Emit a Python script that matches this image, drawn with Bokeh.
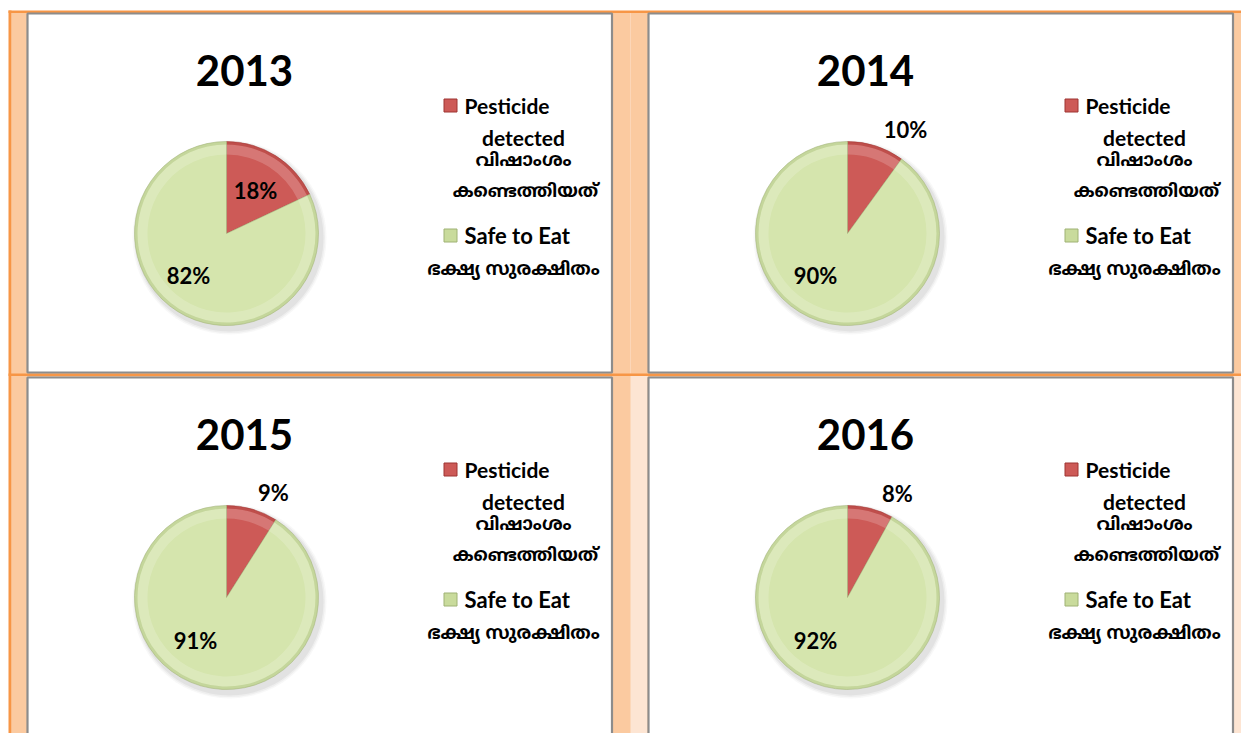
import math
from bokeh.plotting import figure
from bokeh.models import Range1d
from bokeh.core.properties import value
from bokeh.embed import file_html
from bokeh.resources import INLINE

# ---- data ----
years = ["2013", "2014", "2015", "2016"]
pesticide = [18, 10, 9, 8]
safe = [82, 90, 91, 92]
legend_pest_en = ["Pesticide", "detected"]
legend_pest_ml = ["വിഷാംശം", "കണ്ടെത്തിയത്"]
legend_safe_en = "Safe to Eat"
legend_safe_ml = "ഭക്ഷ്യ സുരക്ഷിതം"

# ---- layout (screen pixels, y down) ----
W, H = 1241, 733
offsets = [(0, 0), (621, 0), (0, 364), (621, 364)]
red_lbl = [(29, -43), (58, -104), (47, -105), (50, -104)]
green_lbl = [(-38, 42), (-32, 42), (-31, 43), (-32, 43)]

RED = "#CD5A57"
RED_D = "#9E3532"
GREEN = "#D5E5AD"
GREEN_D = "#9FB275"
ORANGE = "#F79646"
PEACH = "#FBCAA0"
PEACH_L = "#FDE5D3"
GRAY = "#8C8C8C"

FONT = value("Lato")
ML_FONT = value("Noto Sans Malayalam")


def Y(y):
    return H - y


p = figure(width=W, height=H, x_range=Range1d(0, W), y_range=Range1d(0, H),
           output_backend="svg", toolbar_location=None, min_border=0)
p.axis.visible = False
p.grid.visible = False
p.outline_line_color = None
p.background_fill_color = "white"
p.border_fill_color = "white"

# backgrounds
p.quad(left=11, right=W, top=Y(12), bottom=0, fill_color=PEACH, line_color=None)
p.quad(left=[630, 1233], right=[647, W], top=[Y(375), Y(375)], bottom=[0, 0],
       fill_color=PEACH_L, line_color=None)
p.segment(x0=630, y0=Y(12), x1=630, y1=Y(373), line_color="#FCD6B8", line_width=1)
p.quad(left=[8, 8, 8], right=[W, 11, W], top=[Y(10), Y(10), Y(373)],
       bottom=[Y(12.5), 0, Y(375.5)], fill_color=ORANGE, line_color=None)

# panels
for (ox, oy) in offsets:
    top = 13 + (oy and 364)
    bottom = 372 if oy == 0 else 760
    p.quad(left=27 + ox, right=611.5 + ox, top=Y(top), bottom=Y(bottom),
           fill_color="white", line_color=GRAY, line_width=2.2)

R = 92
for i, (ox, oy) in enumerate(offsets):
    cx, cy = 226 + ox, 233 + oy
    f = pesticide[i] / (pesticide[i] + safe[i])
    # shadow
    for k, a in [(5, 0.04), (3.5, 0.06), (2, 0.08)]:
        p.circle(x=cx + 3, y=Y(cy + 4), radius=R + k, fill_color="#555555",
                 fill_alpha=a, line_color=None)
    top_a = math.pi / 2
    split = math.pi / 2 - 2 * math.pi * f
    slices = [(split, top_a, RED, RED_D), (top_a - 2 * math.pi, split, GREEN, GREEN_D)]
    for (s, e, c, cd) in slices:
        p.wedge(x=cx, y=Y(cy), radius=R, start_angle=s, end_angle=e,
                fill_color=c, line_color=cd, line_alpha=0.5, line_width=1)
        p.annular_wedge(x=cx, y=Y(cy), inner_radius=R - 13, outer_radius=R - 3,
                        start_angle=s, end_angle=e, fill_color="white",
                        fill_alpha=0.18, line_color=None)
        p.annular_wedge(x=cx, y=Y(cy), inner_radius=R - 3, outer_radius=R,
                        start_angle=s, end_angle=e, fill_color=cd,
                        fill_alpha=0.3, line_color=None)
    # title
    p.text(x=[244 + ox], y=[Y(70 + oy)], text=[years[i]], text_font=FONT,
           text_font_style="bold", text_font_size="42px", text_align="center",
           text_baseline="middle", text_color="black")
    # labels
    rx, ry = red_lbl[i]
    gx, gy = green_lbl[i]
    p.text(x=[cx + rx, cx + gx], y=[Y(cy + ry), Y(cy + gy)],
           text=[f"{pesticide[i]}%", f"{safe[i]}%"], text_font=FONT,
           text_font_style="bold", text_font_size="22px", text_align="center",
           text_baseline="middle", text_color="black")
    # legend
    p.scatter(x=[450 + ox, 450 + ox], y=[Y(105 + oy), Y(235 + oy)], marker="square",
              size=13, fill_color=[RED, "#C9DB9C"], line_color=[RED_D, GREEN_D],
              line_width=1)
    p.text(x=[464 + ox], y=[Y(105 + oy)], text=[legend_pest_en[0]], text_font=FONT,
           text_font_style="bold", text_font_size="21px", text_align="left",
           text_baseline="middle", text_color="black")
    p.text(x=[523 + ox], y=[Y(137 + oy)], text=[legend_pest_en[1]], text_font=FONT,
           text_font_style="bold", text_font_size="21px", text_align="center",
           text_baseline="middle", text_color="black")
    p.text(x=[523 + ox, 525 + ox], y=[Y(161 + oy), Y(192 + oy)], text=legend_pest_ml,
           text_font=ML_FONT, text_font_style="bold", text_font_size="18px",
           text_align="center", text_baseline="middle", text_color="black")
    p.text(x=[464 + ox], y=[Y(235 + oy)], text=[legend_safe_en], text_font=FONT,
           text_font_style="bold", text_font_size="22px", text_align="left",
           text_baseline="middle", text_color="black")
    p.text(x=[513 + ox], y=[Y(270 + oy)], text=[legend_safe_ml], text_font=ML_FONT,
           text_font_style="bold", text_font_size="18px", text_align="center",
           text_baseline="middle", text_color="black")

open("out.html", "w").write(file_html(p, INLINE))
